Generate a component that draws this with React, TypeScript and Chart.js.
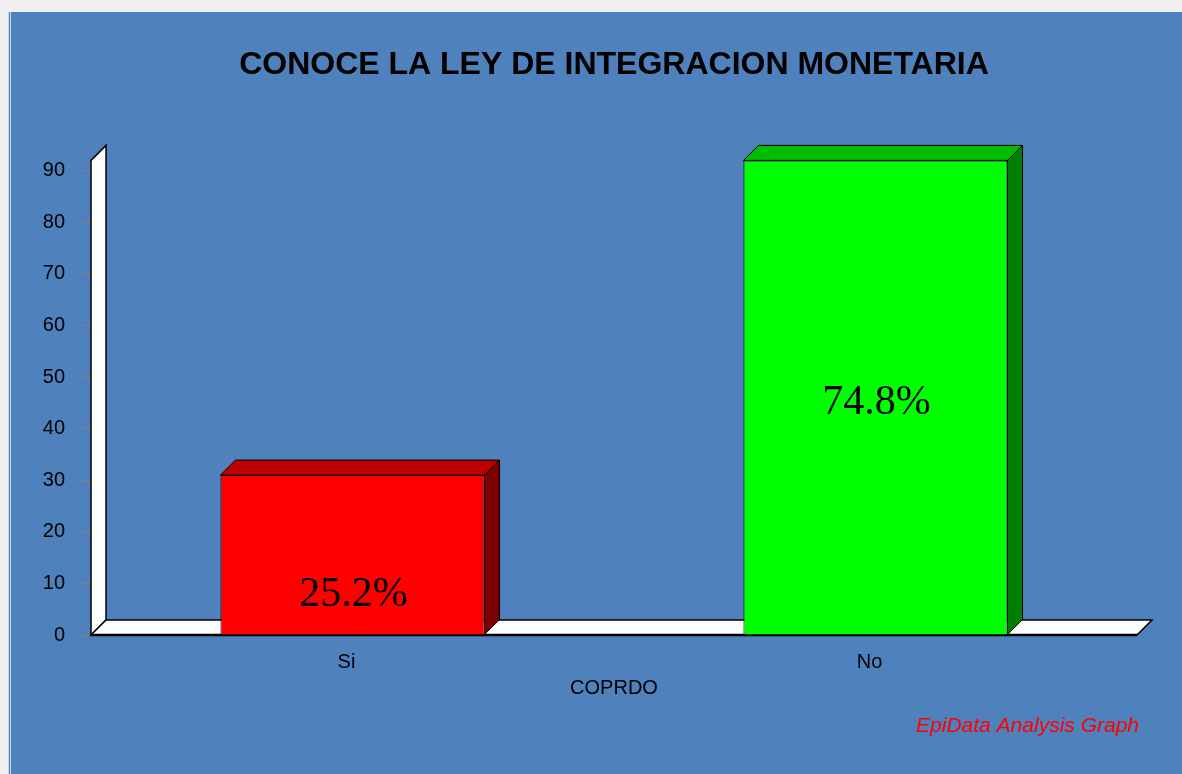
import React, { useEffect, useRef } from "react";
import { Chart, registerables } from "chart.js";

Chart.register(...registerables);

// ---- data ----
const categories = ["Si", "No"];
const counts = [31, 92];
const percentLabels = ["25.2%", "74.8%"];
const labelValues = [7.7, 45.0]; // y-axis value where each percent label sits
const yTickValues = [0, 10, 20, 30, 40, 50, 60, 70, 80, 90];
const frontColors = ["#FF0000", "#00FF00"];
const topColors = ["#BD0000", "#00BD00"];
const sideColors = ["#7F0000", "#007F00"];
const yMax = 92;
const titleText = "CONOCE LA LEY DE INTEGRACION MONETARIA";
const xTitleText = "COPRDO";
const footerText = "EpiData Analysis Graph";

const DEPTH = 15;
const SANS = "'Liberation Sans', Arial, sans-serif";
const SERIF = "'Liberation Serif', 'Times New Roman', serif";

const threeD = {
  id: "threeD",
  beforeDatasetsDraw(chart: any) {
    const { ctx, chartArea } = chart;
    const { left, right, top, bottom } = chartArea;
    const d = DEPTH;
    ctx.save();
    ctx.lineJoin = "miter";
    // back/left wall
    ctx.beginPath();
    ctx.moveTo(left, bottom);
    ctx.lineTo(left, top);
    ctx.lineTo(left + d, top - d);
    ctx.lineTo(left + d, bottom - d);
    ctx.closePath();
    ctx.fillStyle = "#FFFFFF";
    ctx.fill();
    ctx.strokeStyle = "#000000";
    ctx.lineWidth = 1.5;
    ctx.stroke();
    // floor
    ctx.beginPath();
    ctx.moveTo(left, bottom);
    ctx.lineTo(right, bottom);
    ctx.lineTo(right + d, bottom - d);
    ctx.lineTo(left + d, bottom - d);
    ctx.closePath();
    ctx.fillStyle = "#FFFFFF";
    ctx.fill();
    ctx.stroke();
    ctx.beginPath();
    ctx.moveTo(left, bottom);
    ctx.lineTo(right, bottom);
    ctx.lineWidth = 2.5;
    ctx.stroke();
    ctx.restore();
  },
  afterDatasetsDraw(chart: any) {
    const { ctx } = chart;
    const meta = chart.getDatasetMeta(0);
    const yScale = chart.scales.y;
    const d = DEPTH;
    ctx.save();
    meta.data.forEach((bar: any, i: number) => {
      const { x, y, base, width } = bar.getProps(["x", "y", "base", "width"], true);
      const l = x - width / 2;
      const r = x + width / 2;
      ctx.strokeStyle = "#000000";
      ctx.lineWidth = 1;
      ctx.lineJoin = "miter";
      // top face
      ctx.beginPath();
      ctx.moveTo(l, y);
      ctx.lineTo(r, y);
      ctx.lineTo(r + d, y - d);
      ctx.lineTo(l + d, y - d);
      ctx.closePath();
      ctx.fillStyle = topColors[i];
      ctx.fill();
      ctx.stroke();
      // side face
      ctx.beginPath();
      ctx.moveTo(r, y);
      ctx.lineTo(r + d, y - d);
      ctx.lineTo(r + d, base - d);
      ctx.lineTo(r, base);
      ctx.closePath();
      ctx.fillStyle = sideColors[i];
      ctx.fill();
      ctx.stroke();
      // percent label
      ctx.fillStyle = "#000000";
      ctx.font = `42px ${SERIF}`;
      ctx.textAlign = "center";
      ctx.textBaseline = "middle";
      ctx.fillText(percentLabels[i], x + 1, yScale.getPixelForValue(labelValues[i]));
    });
    ctx.restore();
  },
  afterDraw(chart: any) {
    const { ctx, chartArea } = chart;
    ctx.save();
    ctx.fillStyle = "#FF0000";
    ctx.font = `italic 21px ${SANS}`;
    ctx.textAlign = "right";
    ctx.textBaseline = "middle";
    ctx.fillText(footerText, chartArea.right + 2, 714);
    ctx.restore();
  },
};

export default function App() {
  const canvasRef = useRef<HTMLCanvasElement | null>(null);

  useEffect(() => {
    if (!canvasRef.current) return;
    const chart = new Chart(canvasRef.current, {
      type: "bar",
      data: {
        labels: categories,
        datasets: [
          {
            data: counts,
            backgroundColor: frontColors,
            borderColor: "#000000",
            borderWidth: 1,
            barPercentage: 1,
            categoryPercentage: 0.505,
          },
        ],
      },
      options: {
        responsive: false,
        animation: false,
        devicePixelRatio: 1,
        layout: { padding: { left: 0, right: 45, top: 0, bottom: 0 } },
        plugins: {
          legend: { display: false },
          tooltip: { enabled: false },
          title: {
            display: true,
            fullSize: false,
            text: titleText,
            color: "#000000",
            font: { family: SANS, size: 32, weight: "bold" },
            padding: { top: 34, bottom: 76 },
          },
        },
        scales: {
          x: {
            grid: {
              display: true,
              drawOnChartArea: false,
              drawTicks: true,
              tickLength: 6,
              color: "#808080",
              offset: false,
            },
            border: { display: false },
            ticks: {
              color: "#000000",
              font: { family: SANS, size: 20 },
              padding: 9,
              labelOffset: -6,
            },
            title: {
              display: true,
              text: xTitleText,
              color: "#000000",
              font: { family: SANS, size: 20 },
              padding: { top: 0, bottom: 74 },
            },
            afterFit: (s: any) => {
              s.height = 139;
            },
          },
          y: {
            min: 0,
            max: yMax,
            grid: {
              drawOnChartArea: false,
              tickLength: 10,
              color: "#808080",
            },
            border: { display: false },
            ticks: {
              color: "#000000",
              font: { family: SANS, size: 20 },
              padding: 16,
            },
            afterBuildTicks: (s: any) => {
              s.ticks = yTickValues.map((v) => ({ value: v }));
            },
            afterFit: (s: any) => {
              s.width = 80;
            },
          },
        },
      },
      plugins: [threeD],
    } as any);
    return () => chart.destroy();
  }, []);

  return (
    <div style={{ position: "fixed", inset: 0, background: "#F0F0F0", overflow: "hidden" }}>
      <div
        style={{
          position: "absolute",
          left: 8,
          top: 12,
          width: 1174,
          height: 762,
          background: "#4F81BD",
          borderLeft: "3px double #C5D6EC",
          boxSizing: "border-box",
        }}
      >
        <canvas ref={canvasRef} width={1171} height={762} style={{ display: "block" }} />
      </div>
    </div>
  );
}
